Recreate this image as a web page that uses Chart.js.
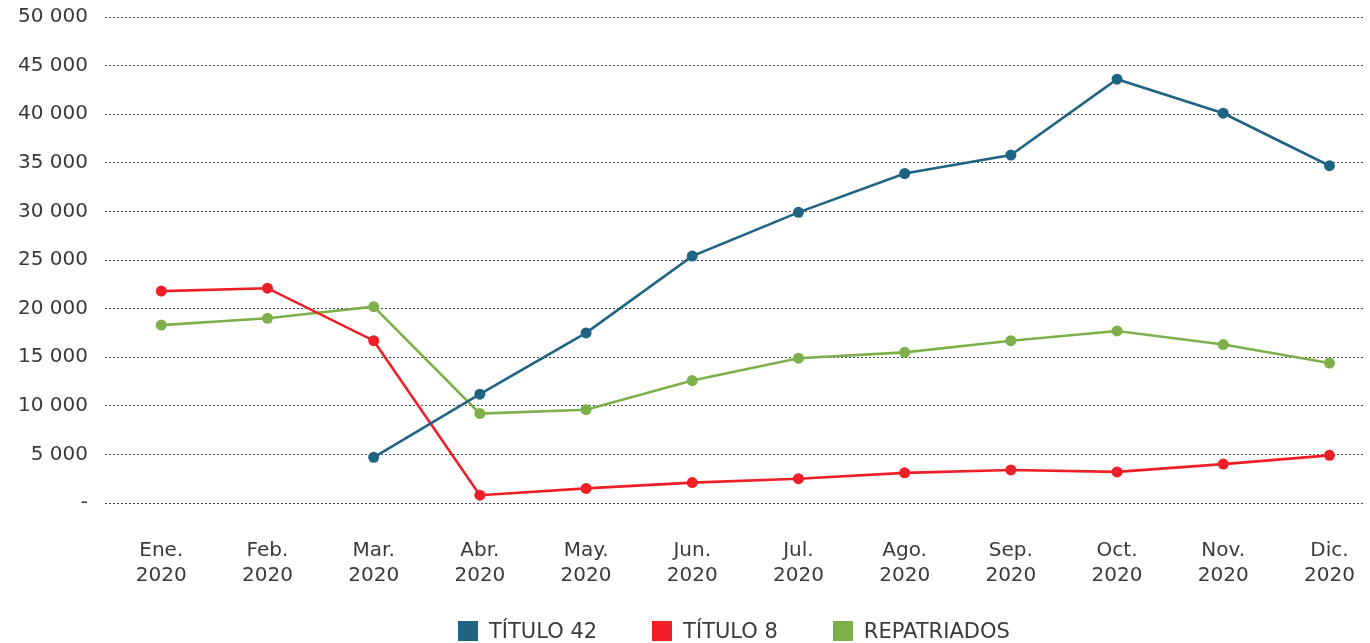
<!DOCTYPE html>
<html>
<head>
<meta charset="utf-8">
<script src="https://cdn.jsdelivr.net/npm/chart.js@4/dist/chart.umd.min.js"></script>
<style>
  body { margin: 0; background: #fff; overflow: hidden; }
  #wrap { position: relative; width: 1370px; height: 643px; }
  #chart { display: block; }
  #legend {
    position: absolute; left: 458px; top: 619px;
    display: flex; align-items: center; gap: 55px;
    font-family: "DejaVu Sans", sans-serif; font-size: 21px; color: #3a3a3a;
  }
  #legend .item { display: flex; align-items: center; }
  #legend .box { width: 20px; height: 20px; margin-right: 11px; }
</style>
</head>
<body>
<div id="wrap">
  <canvas id="chart" width="1370" height="643"></canvas>
  <div id="legend"></div>
</div>
<script>
const months = [['Ene.', '2020'], ['Feb.', '2020'], ['Mar.', '2020'], ['Abr.', '2020'], ['May.', '2020'], ['Jun.', '2020'],
  ['Jul.', '2020'], ['Ago.', '2020'], ['Sep.', '2020'], ['Oct.', '2020'], ['Nov.', '2020'], ['Dic.', '2020']];

const titulo42 = [null, null, 4700, 11200, 17500, 25400, 29900, 33900, 35800, 43600, 40100, 34700];
const titulo8 = [21800, 22100, 16700, 800, 1500, 2100, 2500, 3100, 3400, 3200, 4000, 4900];
const repatriados = [18300, 19000, 20200, 9200, 9600, 12600, 14900, 15500, 16700, 17700, 16300, 14400];

const seriesNames = ['TÍTULO 42', 'TÍTULO 8', 'REPATRIADOS'];
const seriesColors = ['#1f6482', '#ee1f26', '#7db04a'];

const FONT = '"DejaVu Sans", sans-serif';
const TEXT = '#3a3a3a';

function toPoints(arr) {
  return arr.map((v, i) => ({ x: i, y: v }));
}

function fmt(v) {
  if (v === 0) return '-';
  return String(v).replace(/\B(?=(\d{3})+(?!\d))/g, ' ');
}

const datasets = [titulo42, titulo8, repatriados].map((arr, i) => ({
  label: seriesNames[i],
  data: toPoints(arr),
  borderColor: seriesColors[i],
  backgroundColor: seriesColors[i],
  pointBackgroundColor: seriesColors[i],
  borderWidth: 2.6,
  pointRadius: 5.5,
  pointBorderWidth: 0,
  tension: 0,
  spanGaps: false
}));

const ctx = document.getElementById('chart').getContext('2d');
new Chart(ctx, {
  type: 'line',
  data: { datasets: datasets },
  options: {
    responsive: false,
    animation: false,
    layout: { padding: { top: 17, left: 14, right: 0, bottom: 54 } },
    plugins: {
      legend: { display: false },
      tooltip: { enabled: false }
    },
    scales: {
      x: {
        type: 'linear',
        min: -0.53,
        max: 11.33,
        afterBuildTicks: scale => {
          scale.ticks = months.map((_, i) => ({ value: i }));
        },
        afterFit: scale => {
          scale.height = 86;
          scale.paddingLeft = 0;
          scale.paddingRight = 0;
        },
        ticks: {
          autoSkip: false,
          maxRotation: 0,
          padding: 35,
          color: TEXT,
          font: { family: FONT, size: 20, lineHeight: 1.25 },
          callback: value => months[value] || ''
        },
        grid: { display: false, drawTicks: false },
        border: { display: false }
      },
      y: {
        min: 0,
        max: 50000,
        afterFit: scale => {
          scale.width = 91;
          scale.paddingTop = 0;
          scale.paddingBottom = 0;
        },
        ticks: {
          stepSize: 5000,
          padding: 17,
          color: TEXT,
          font: { family: FONT, size: 20 },
          callback: value => fmt(value)
        },
        grid: { color: '#444', lineWidth: 1, drawTicks: false },
        border: { display: false, dash: [2, 2] }
      }
    }
  }
});

const legend = document.getElementById('legend');
seriesNames.forEach((name, i) => {
  const item = document.createElement('div');
  item.className = 'item';
  const box = document.createElement('span');
  box.className = 'box';
  box.style.background = seriesColors[i];
  const label = document.createElement('span');
  label.textContent = name;
  item.appendChild(box);
  item.appendChild(label);
  legend.appendChild(item);
});
</script>
</body>
</html>
